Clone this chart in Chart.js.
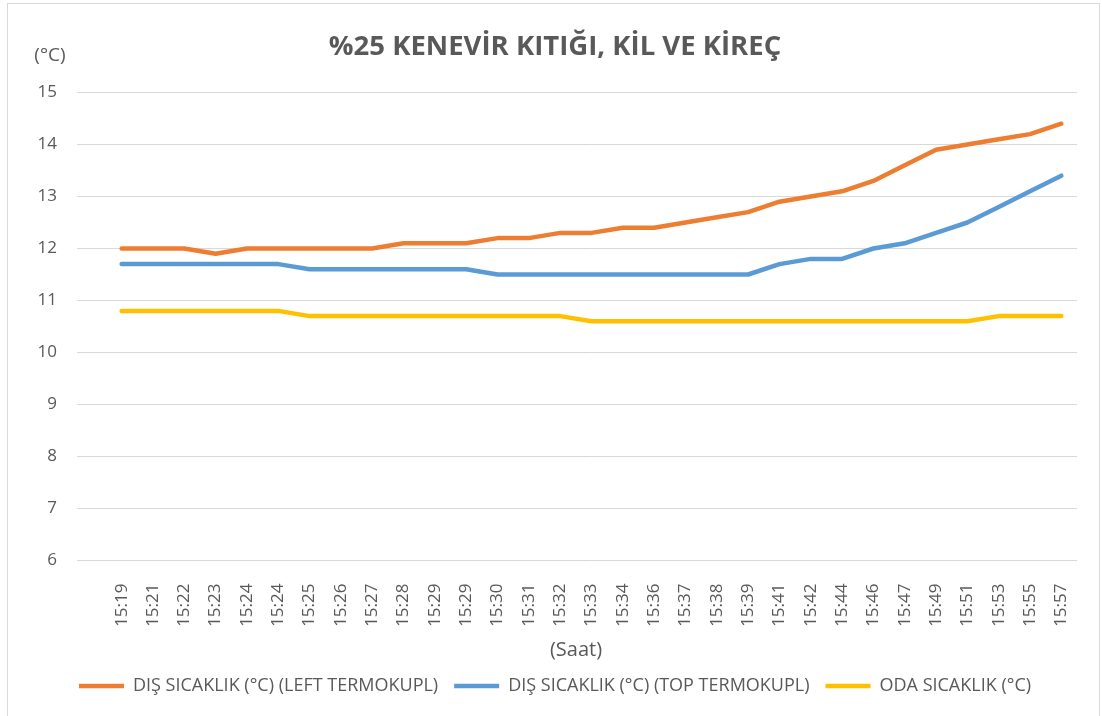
<!DOCTYPE html>
<html>
<head>
<meta charset="utf-8">
<script src="https://cdn.jsdelivr.net/npm/chart.js@4.4.0/dist/chart.umd.min.js"></script>
<style>
  html, body { margin: 0; padding: 0; background: #fff; }
  #wrap { position: relative; width: 1102px; height: 716px; overflow: hidden; }
  #frame { position: absolute; left: 7px; top: 3px; width: 1091px; height: 730px; border: 1px solid #d9d9d9; pointer-events: none; }
</style>
</head>
<body>
<div id="wrap">
  <canvas id="chart" width="1102" height="716"></canvas>
  <div id="frame"></div>
</div>
<script>
const saatLabels = ['15:19', '15:21', '15:22', '15:23', '15:24', '15:24', '15:25', '15:26', '15:27', '15:28',
  '15:29', '15:29', '15:30', '15:31', '15:32', '15:33', '15:34', '15:36', '15:37', '15:38',
  '15:39', '15:41', '15:42', '15:44', '15:46', '15:47', '15:49', '15:51', '15:53', '15:55', '15:57'];

const leftTermokupl = [12.0, 12.0, 12.0, 11.9, 12.0, 12.0, 12.0, 12.0, 12.0, 12.1,
  12.1, 12.1, 12.2, 12.2, 12.3, 12.3, 12.4, 12.4, 12.5, 12.6,
  12.7, 12.9, 13.0, 13.1, 13.3, 13.6, 13.9, 14.0, 14.1, 14.2, 14.4];

const topTermokupl = [11.7, 11.7, 11.7, 11.7, 11.7, 11.7, 11.6, 11.6, 11.6, 11.6,
  11.6, 11.6, 11.5, 11.5, 11.5, 11.5, 11.5, 11.5, 11.5, 11.5,
  11.5, 11.7, 11.8, 11.8, 12.0, 12.1, 12.3, 12.5, 12.8, 13.1, 13.4];

const odaSicaklik = [10.8, 10.8, 10.8, 10.8, 10.8, 10.8, 10.7, 10.7, 10.7, 10.7,
  10.7, 10.7, 10.7, 10.7, 10.7, 10.6, 10.6, 10.6, 10.6, 10.6,
  10.6, 10.6, 10.6, 10.6, 10.6, 10.6, 10.6, 10.6, 10.7, 10.7, 10.7];

const yMin = 6;
const yMax = 15;

const FONT = "'Open Sans', sans-serif";
const TEXT = '#595959';
const GRID = '#d9d9d9';

// unit label "(°C)" above the y axis and "(Saat)" under the x labels
const axisNotes = {
  id: 'axisNotes',
  afterDraw(chart) {
    const ctx = chart.ctx;
    ctx.save();
    ctx.fillStyle = TEXT;
    ctx.textAlign = 'center';
    ctx.textBaseline = 'middle';
    ctx.font = '19px ' + FONT;
    ctx.fillText('(°C)', 50, 56);
    ctx.font = '20px ' + FONT;
    ctx.fillText('(Saat)', 576, 650);
    ctx.restore();
  }
};

function line(label, data, color) {
  return {
    label: label,
    data: data,
    borderColor: color,
    backgroundColor: color,
    borderWidth: 4.5,
    borderCapStyle: 'round',
    borderJoinStyle: 'round',
    pointRadius: 0,
    tension: 0,
    fill: false
  };
}

new Chart(document.getElementById('chart'), {
  type: 'line',
  data: {
    labels: saatLabels,
    datasets: [
      line('DIŞ SICAKLIK (°C) (LEFT TERMOKUPL)', leftTermokupl, '#ED7D31'),
      line('DIŞ SICAKLIK (°C) (TOP TERMOKUPL)', topTermokupl, '#5B9BD5'),
      line('ODA SICAKLIK (°C)', odaSicaklik, '#FFC000')
    ]
  },
  options: {
    responsive: false,
    animation: false,
    layout: { padding: { left: 33, right: 25, top: 0, bottom: 11 } },
    plugins: {
      title: {
        display: true,
        text: '%25 KENEVİR KITIĞI, KİL VE KİREÇ',
        color: TEXT,
        font: { family: FONT, size: 27.5, weight: 'bold' },
        padding: { top: 31, bottom: 28.5 }
      },
      legend: {
        position: 'bottom',
        labels: {
          color: TEXT,
          font: { family: FONT, size: 18 },
          usePointStyle: true,
          pointStyle: 'line',
          pointStyleWidth: 45,
          padding: 16
        }
      },
      tooltip: { enabled: false }
    },
    scales: {
      x: {
        offset: true,
        grid: { display: false },
        border: { display: false },
        ticks: {
          color: TEXT,
          font: { family: FONT, size: 17 },
          minRotation: 90,
          maxRotation: 90,
          autoSkip: false,
          padding: 15
        },
        afterFit(scale) { scale.height = 100.5; }
      },
      y: {
        min: yMin,
        max: yMax,
        border: { display: false },
        grid: { color: GRID, lineWidth: 1, drawTicks: true, tickLength: 29 },
        ticks: {
          stepSize: 1,
          color: TEXT,
          font: { family: FONT, size: 17 },
          padding: 20
        },
        afterFit(scale) { scale.width = 73; }
      }
    }
  },
  plugins: [axisNotes]
});
</script>
</body>
</html>
